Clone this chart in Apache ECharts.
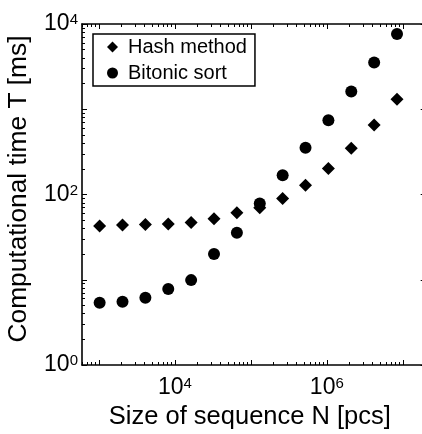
<!DOCTYPE html>
<html>
<head>
<meta charset="utf-8">
<script src="https://cdn.jsdelivr.net/npm/echarts@6/dist/echarts.min.js"></script>
<style>html,body{margin:0;padding:0;background:#fff}#c{width:422px;height:434px}</style>
</head>
<body>
<div id="c"></div>
<script>
// Data
const sizes = [1024, 2048, 4096, 8192, 16384, 32768, 65536, 131072, 262144, 524288, 1048576, 2097152, 4194304, 8388608];
const hashMethod = [42.8, 44, 44.4, 45.2, 46.9, 52, 61, 70, 89.7, 128.6, 202, 348, 654, 1312];
const bitonicSort = [5.36, 5.51, 6.14, 7.78, 9.9, 20, 35.7, 78.4, 168.7, 354, 743, 1615, 3542, 7625];
const seriesNames = ['Hash method', 'Bitonic sort'];
const xMajorTicks = [1e3, 1e4, 1e5, 1e6, 1e7];
const xLabelTicks = [1e4, 1e6];
const yMajorTicks = [1, 10, 100, 1000, 10000];
const yLabelTicks = [1, 100, 10000];
const xName = 'Size of sequence N [pcs]';
const yName = 'Computational time T [ms]';

function minors(lo, hi) {
  const out = [];
  for (let p = lo; p < hi; p++) for (let k = 2; k <= 9; k++) out.push(k * Math.pow(10, p));
  return out;
}
const xMinorTicks = minors(2, 8).filter(v => v >= 600 && v <= 2e7);
const yMinorTicks = minors(0, 4);

const FONT = 'Liberation Sans, Arial, Helvetica, sans-serif';
const X_MIN = 600, X_MAX = 2e7;
const supFmt = v => '{b|10}{s|' + Math.round(Math.log10(v)) + '}';
const richY = {
  b: {fontSize: 23, fontFamily: FONT, color: '#000', lineHeight: 23, verticalAlign: 'bottom', padding: [8, 0, 0, 0]},
  s: {fontSize: 15, fontFamily: FONT, color: '#000', lineHeight: 15, verticalAlign: 'top'}
};
const richX = {
  b: {fontSize: 23, fontFamily: FONT, color: '#000', lineHeight: 23, verticalAlign: 'bottom', padding: [5, 0, 0, 0]},
  s: {fontSize: 15, fontFamily: FONT, color: '#000', lineHeight: 15, verticalAlign: 'top'}
};
const lineStyle = {color: '#000', width: 1.6};

function xAx(pos, ticks, len, showLine, labels, extra) {
  return Object.assign({
    type: 'log', logBase: 10, min: X_MIN, max: X_MAX, position: pos, gridIndex: 0,
    axisLine: {show: showLine, onZero: false, lineStyle: lineStyle},
    axisTick: {show: true, inside: true, length: len, customValues: ticks, lineStyle: {color: '#000', width: 1}},
    axisLabel: labels ? {show: true, customValues: xLabelTicks, formatter: supFmt, rich: richX, margin: 11} : {show: false},
    splitLine: {show: false}, minorTick: {show: false}
  }, extra || {});
}
function yAx(pos, ticks, len, showLine, labels, extra) {
  return Object.assign({
    type: 'log', logBase: 10, min: 1, max: 10000, position: pos, gridIndex: 0,
    axisLine: {show: showLine, onZero: false, lineStyle: lineStyle},
    axisTick: {show: true, inside: true, length: len, customValues: ticks, lineStyle: {color: '#000', width: 1}},
    axisLabel: labels ? {show: true, customValues: yLabelTicks, formatter: supFmt, rich: richY, margin: 4} : {show: false},
    splitLine: {show: false}, minorTick: {show: false}
  }, extra || {});
}

const chart = echarts.init(document.getElementById('c'), null, {renderer: 'canvas'});
chart.setOption({
  animation: false,
  backgroundColor: '#fff',
  grid: {left: 82, top: 24, width: 343.7, height: 341, containLabel: false, outerBoundsMode: 'none'},
  legend: {
    orient: 'vertical', left: 93, top: 34,
    data: [{name: seriesNames[0], icon: 'diamond'}, {name: seriesNames[1], icon: 'circle'}],
    itemWidth: 11, itemHeight: 11, itemGap: 6,
    padding: [3, 8, 3, 14],
    borderColor: '#000', borderWidth: 1.5, backgroundColor: '#fff',
    textStyle: {fontSize: 20, fontFamily: FONT, color: '#000', padding: [0, 0, 0, 5]},
    itemStyle: {color: '#000', opacity: 1}
  },
  xAxis: [
    xAx('bottom', xMajorTicks, 5, true, true, {
      name: xName, nameLocation: 'middle', nameGap: 38,
      nameTextStyle: {fontSize: 25.5, fontFamily: FONT, color: '#000', padding: [0, 8, 0, 0]}
    }),
    xAx('bottom', xMinorTicks, 3, false, false),
    xAx('top', xMajorTicks, 5, true, false),
    xAx('top', xMinorTicks, 3, false, false)
  ],
  yAxis: [
    yAx('left', yMajorTicks, 5, true, true, {
      name: yName, nameLocation: 'middle', nameGap: 50, nameRotate: 90,
      nameTextStyle: {fontSize: 26.3, fontFamily: FONT, color: '#000', padding: [0, 0, 0, 11]}
    }),
    yAx('left', yMinorTicks, 3, false, false),
    yAx('right', yMajorTicks, 5, true, false),
    yAx('right', yMinorTicks, 3, false, false)
  ],
  series: [
    {
      name: seriesNames[0], type: 'scatter', symbol: 'diamond', symbolSize: 13,
      xAxisIndex: 0, yAxisIndex: 0,
      itemStyle: {color: '#000', opacity: 1},
      data: sizes.map((n, i) => [n, hashMethod[i]])
    },
    {
      name: seriesNames[1], type: 'scatter', symbol: 'circle', symbolSize: 12,
      xAxisIndex: 0, yAxisIndex: 0,
      itemStyle: {color: '#000', opacity: 1},
      data: sizes.map((n, i) => [n, bitonicSort[i]])
    }
  ]
});
</script>
</body>
</html>
